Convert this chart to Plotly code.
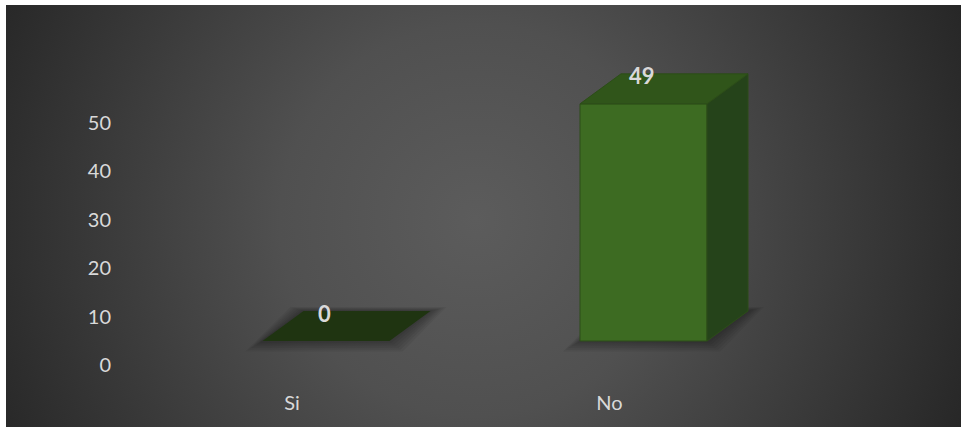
import base64
import plotly.graph_objects as go

# ---- data ----
categories = ["Si", "No"]
values = [0, 49]
tick_values = [0, 10, 20, 30, 40, 50]

# ---- canvas / axis geometry ----
W, H = 961, 427
PLOT_LEFT = 125          # px where the x axis domain starts
PLOT_BOTTOM = 380        # px where the y axis domain ends
PX_PER_CAT = 317.5       # px between category centres
PX_PER_UNIT = 4.84       # px per value unit
CAT0_PX = 326            # px of the first category centre
ZERO_BAR_PX = 341        # px of the bar base (front face)
TICK_DROP = 24           # tick labels sit on the back wall, lower in projection

x0 = -(CAT0_PX - PLOT_LEFT) / PX_PER_CAT
x1 = x0 + (W - PLOT_LEFT) / PX_PER_CAT
y_rng = [-(PLOT_BOTTOM - ZERO_BAR_PX) / PX_PER_UNIT, ZERO_BAR_PX / PX_PER_UNIT]

# 3D look: bar width and depth offset (in axis units)
BAR_W = 0.40
DX = 41 / PX_PER_CAT
DY = 30 / PX_PER_UNIT

FRONT = "#3d6b22"
TOP = "#30551a"
SIDE = "#25431a"
FLOOR = "#1f3411"
EDGE = "#2c4d18"
TEXT = "#d9d9d9"
FONT = "Lato, 'Noto Sans', sans-serif"

# background: radial gradient as an inline SVG
bw, bh = W - 6, H - 5
svg = (
    f'<svg xmlns="http://www.w3.org/2000/svg" width="{bw}" height="{bh}" '
    f'viewBox="0 0 {bw} {bh}" preserveAspectRatio="none">'
    '<defs><radialGradient id="g" gradientUnits="userSpaceOnUse" '
    'cx="470" cy="215" r="560">'
    '<stop offset="0" stop-color="#5c5c5c"/>'
    '<stop offset="0.35" stop-color="#505050"/>'
    '<stop offset="1" stop-color="#232323"/>'
    '</radialGradient></defs>'
    f'<rect width="{bw}" height="{bh}" fill="url(#g)"/></svg>'
)
bg_src = "data:image/svg+xml;base64," + base64.b64encode(svg.encode()).decode()

fig = go.Figure()


def poly(xs, ys, color, opacity=1.0, line=None):
    fig.add_trace(go.Scatter(
        x=xs + [xs[0]], y=ys + [ys[0]],
        mode="lines", fill="toself", fillcolor=color, opacity=opacity,
        line=dict(width=1 if line else 0, color=line or color),
        hoverinfo="skip", showlegend=False,
    ))


for i, v in enumerate(values):
    c = i
    l, r = c - BAR_W / 2, c + BAR_W / 2
    # soft shadow around the footprint, built from thin translucent layers
    for k in range(6, 0, -1):
        gx = k * 2.2 / PX_PER_CAT
        gy = k * 2.2 / PX_PER_UNIT
        poly([l - gx * 1.3, r + gx, r + DX + gx * 1.2, l + DX - gx],
             [-gy * 0.8, -gy * 0.8, DY + gy * 0.3, DY + gy * 0.3],
             "#000000", 0.055)
    if v == 0:
        poly([l, r, r + DX, l + DX], [0, 0, DY, DY], FLOOR)
        continue
    # front face
    poly([l, r, r, l], [0, 0, v, v], FRONT, line=EDGE)
    # side face
    poly([r, r + DX, r + DX, r], [0, DY, v + DY, v], SIDE, line=EDGE)
    # top face
    poly([l, r, r + DX, l + DX], [v, v, v + DY, v + DY], TOP, line=EDGE)

# value labels
for i, v in enumerate(values):
    fig.add_annotation(
        x=i, y=v, text=f"<b>{v}</b>", showarrow=False,
        yshift=28, xshift=-2, font=dict(family=FONT, size=22, color=TEXT),
    )

fig.update_layout(
    width=W, height=H,
    margin=dict(l=0, r=0, t=0, b=0),
    paper_bgcolor="#ffffff",
    plot_bgcolor="rgba(0,0,0,0)",
    showlegend=False,
    images=[dict(source=bg_src, xref="paper", yref="paper",
                 x=6 / W, y=1 - 5 / H, sizex=bw / W, sizey=bh / H,
                 xanchor="left", yanchor="top", sizing="stretch",
                 layer="below")],
    xaxis=dict(
        domain=[PLOT_LEFT / W, 1], range=[x0, x1],
        tickvals=list(range(len(categories))), ticktext=categories,
        ticklabelshift=-34, ticks="outside", ticklen=5,
        tickcolor="rgba(0,0,0,0)", showgrid=False, zeroline=False,
        showline=False, tickfont=dict(family=FONT, size=20, color=TEXT),
    ),
    yaxis=dict(
        domain=[(H - PLOT_BOTTOM) / H, 1], range=y_rng,
        tickvals=tick_values, ticklabelshift=TICK_DROP,
        ticks="outside", ticklen=9,
        tickcolor="rgba(0,0,0,0)", showgrid=False, zeroline=False,
        showline=False, tickfont=dict(family=FONT, size=20, color=TEXT),
    ),
)

fig.write_html("out.html")
